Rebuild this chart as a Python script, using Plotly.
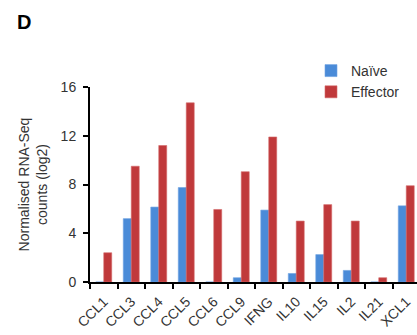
import plotly.graph_objects as go

genes = ["CCL1", "CCL3", "CCL4", "CCL5", "CCL6", "CCL9", "IFNG", "IL10", "IL15", "IL2", "IL21", "XCL1"]
naive = [0, 5.2, 6.15, 7.75, 0, 0.35, 5.9, 0.7, 2.25, 0.95, 0, 6.25]
effector = [2.4, 9.5, 11.2, 14.7, 5.95, 9.05, 11.9, 5.0, 6.35, 5.0, 0.35, 7.9]
y_ticks = [0, 4, 8, 12, 16]

font_family = "Liberation Sans, Arial, Helvetica, sans-serif"

fig = go.Figure()
fig.add_trace(go.Bar(x=genes, y=naive, name="Naïve",
                     marker=dict(color="#4a8bd8", line=dict(color="#6fa3e0", width=0.6))))
fig.add_trace(go.Bar(x=genes, y=effector, name="Effector",
                     marker=dict(color="#c0393b", line=dict(color="#d46a6a", width=0.6))))

fig.update_layout(
    width=417, height=335,
    margin=dict(l=90, r=0, t=87, b=53, autoexpand=False),
    paper_bgcolor="white", plot_bgcolor="white",
    barmode="group", bargap=0.42, bargroupgap=0,
    font=dict(family=font_family, size=13, color="#333333"),
    showlegend=True,
    legend=dict(x=(311 - 90) / 327, xanchor="left", y=1 + (87 - 55) / 195, yanchor="top",
                font=dict(size=14, color="#333333"), bgcolor="rgba(0,0,0,0)",
                tracegroupgap=0, itemwidth=30),
    annotations=[dict(text="<b>D</b>", x=-75 / 327, y=1 + (87 - 22) / 195, xref="paper", yref="paper",
                      xanchor="left", yanchor="middle", showarrow=False,
                      font=dict(size=20, color="black", family=font_family))],
)

fig.update_xaxes(
    type="category", range=[-0.5, -0.5 + 327 / 27.5], automargin=False,
    showline=True, linecolor="black", linewidth=2,
    ticks="outside", ticklen=5, tickwidth=2, tickcolor="black",
    tickson="boundaries", tickangle=-45, ticklabelstandoff=4,
    tickfont=dict(size=14, color="#333333"),
    showgrid=False, zeroline=False,
)
fig.update_yaxes(
    range=[0, 16], tickvals=y_ticks, automargin=False,
    showline=True, linecolor="black", linewidth=2,
    ticks="outside", ticklen=5, tickwidth=2, tickcolor="black",
    tickfont=dict(size=14, color="#333333"), ticklabelstandoff=4,
    showgrid=False, zeroline=False,
    title=dict(text="Normalised RNA-Seq<br>counts (log2)", font=dict(size=14, color="#333333"), standoff=10),
)

fig.write_html("out.html", config={"displayModeBar": False},
               post_script="document.body.style.margin='0';document.body.style.overflow='hidden';")
